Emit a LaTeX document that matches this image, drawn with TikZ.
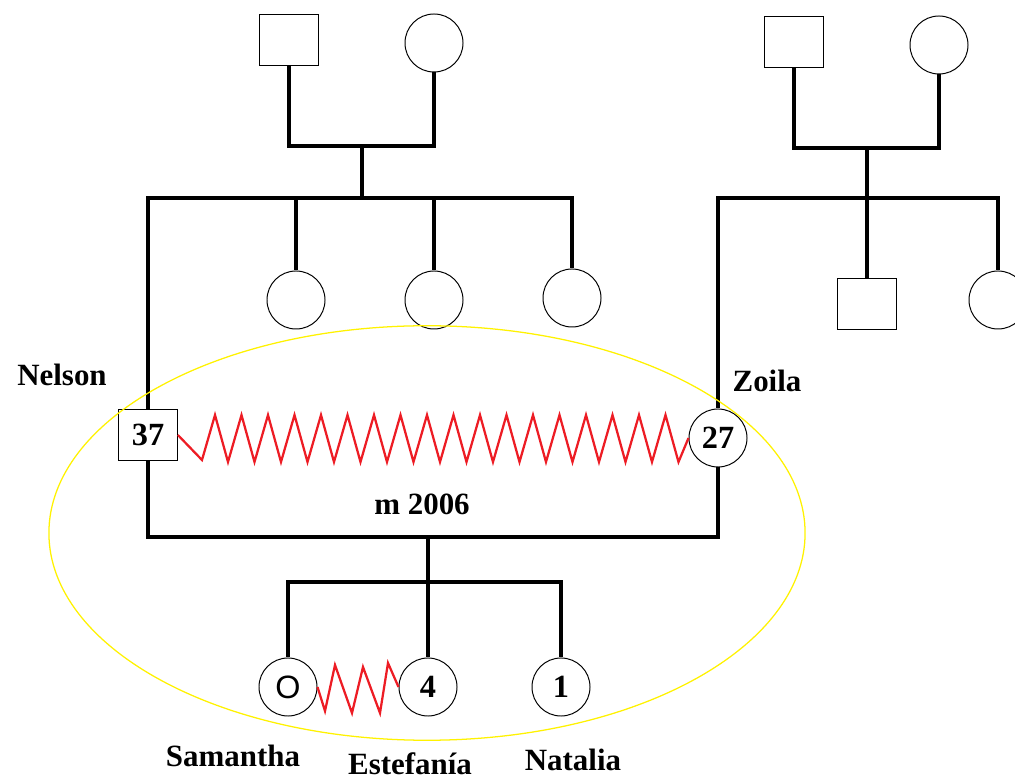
\documentclass[tikz,border=0pt]{standalone}
\usepackage{fontspec}
\setmainfont{Liberation Serif}
\setsansfont{Liberation Sans}
\definecolor{paintred}{RGB}{237,28,36}
\definecolor{paintyellow}{RGB}{255,242,0}
\tikzset{
  male/.style={draw, line width=0.7pt, minimum width=1.47cm, minimum height=1.27cm, inner sep=0pt, font=\fontsize{23}{27}\selectfont\bfseries},
  female/.style={draw, circle, line width=0.7pt, minimum size=1.45cm, inner sep=0pt, font=\fontsize{23}{27}\selectfont\bfseries},
  link/.style={line width=2.2pt},
  conflict/.style={paintred, line width=1.6pt, line join=miter},
  person/.style={anchor=base, font=\fontsize{22}{26}\selectfont\bfseries},
}

\begin{document}
\begin{tikzpicture}[x=0.025cm, y=-0.025cm]
        \useasboundingbox (0,0) rectangle (1015,780);

        \node[male] (gfnelson) at (289,40) {};
        \node[female] (gmnelson) at (434,43) {};
        \node[male] (gfzoila) at (794,42) {};
        \node[female] (gmzoila) at (939,45) {};

        \node[female] (aunta) at (296,300) {};
        \node[female] (auntb) at (434,300) {};
        \node[female] (auntc) at (572,298) {};
        \node[male] (uncle) at (867,304) {};
        \node[female] (auntd) at (998,300) {};

        \node[male] (nelson) at (148,435) {37};
        \node[female] (zoila) at (718,438) {27};

        \node[female] (samantha) at (288,687) {\sffamily\mdseries O};
        \node[female] (estefania) at (428,687) {4};
        \node[female] (natalia) at (561,687) {1};

        \coordinate (pnelson) at (362,146);
        \coordinate (snelson) at (362,198);
        \draw[link] (gfnelson.south) |- (pnelson) -| (gmnelson.south);
        \draw[link] (pnelson) -- (snelson);
        \draw[link] (nelson.north) |- (auntc.north |- snelson) -- (auntc.north);
        \draw[link] (aunta.north) -- (aunta.north |- snelson);
        \draw[link] (auntb.north) -- (auntb.north |- snelson);

        \coordinate (pzoila) at (867,148);
        \coordinate (szoila) at (867,198);
        \draw[link] (gfzoila.south) |- (pzoila) -| (gmzoila.south);
        \draw[link] (pzoila) -- (uncle.north);
        \draw[link] (zoila.north) |- (auntd.north |- szoila) -- (auntd.north);

        \coordinate (union) at (428,537);
        \coordinate (kids) at (428,582);
        \draw[link] (nelson.south) |- (union) -| (zoila.south);
        \draw[link] (union) -- (estefania.north);
        \draw[link] (samantha.north) |- (kids) -| (natalia.north);

        \draw[conflict] (nelson.east) -- (202,460)
          \foreach \k in {0,...,17} { -- ({215+26.5*\k},415) -- ({228+26.5*\k},462) } -- (zoila.west);
        \draw[conflict] (samantha.east) -- (325,711) -- (335,665) -- (352,713)
          -- (363,667) -- (380,713) -- (388,663) -- (estefania.west);

        \draw[paintyellow, line width=0.9pt] (427,533) ellipse [x radius=9.45cm, y radius=5.18cm];

        \node[person] (year) at (422,515) {m 2006};
        \node[person] (nelsonname) at (62,386) {Nelson};
        \node[person] (zoilaname) at (767,392) {Zoila};
        \node[person] (samanthaname) at (233,767) {Samantha};
        \node[person] (estefanianame) at (410,774) {Estefanía};
        \node[person] (natalianame) at (573,770) {Natalia};
      \end{tikzpicture}
\end{document}
